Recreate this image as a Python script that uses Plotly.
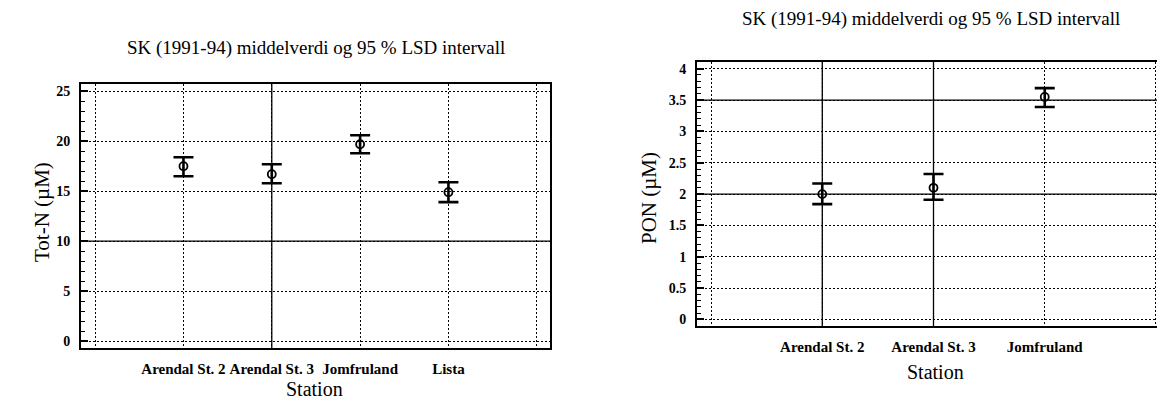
import plotly.graph_objects as go

# ---- data ----
stations_left = ["Arendal St. 2", "Arendal St. 3", "Jomfruland", "Lista"]
totn_mean = [17.5, 16.7, 19.7, 14.9]
totn_low = [16.5, 15.8, 18.8, 13.9]
totn_high = [18.4, 17.7, 20.6, 15.9]

stations_right = ["Arendal St. 2", "Arendal St. 3", "Jomfruland"]
pon_mean = [2.0, 2.1, 3.55]
pon_low = [1.84, 1.91, 3.39]
pon_high = [2.17, 2.32, 3.69]

title_text = "SK (1991-94) middelverdi og 95 % LSD intervall"
left_ylabel = "Tot-N (µM)"
right_ylabel = "PON (µM)"
xlabel = "Station"

left_yticks = [0, 5, 10, 15, 20, 25]
right_yticks = [0, 0.5, 1, 1.5, 2, 2.5, 3, 3.5, 4]
left_solid_y = [10]
left_solid_x = [2]
right_solid_y = [2, 3.5]
right_solid_x = [1, 2]

W, H = 1165, 401
SERIF = "Liberation Serif"

def px(x):
    return x / W

def py(y):
    return 1 - y / H

fig = go.Figure()

xl = list(range(1, len(stations_left) + 1))
xr = list(range(1, len(stations_right) + 1))

marker_style = dict(symbol="circle-open", size=8, color="black", line=dict(width=1.8, color="black"))

fig.add_trace(go.Scatter(
    x=xl, y=totn_mean, mode="markers", marker=marker_style,
    error_y=dict(type="data", symmetric=False,
                 array=[h - m for h, m in zip(totn_high, totn_mean)],
                 arrayminus=[m - l for m, l in zip(totn_mean, totn_low)],
                 color="black", thickness=2.6, width=10),
    xaxis="x", yaxis="y", showlegend=False))

fig.add_trace(go.Scatter(
    x=xr, y=pon_mean, mode="markers", marker=marker_style,
    error_y=dict(type="data", symmetric=False,
                 array=[h - m for h, m in zip(pon_high, pon_mean)],
                 arrayminus=[m - l for m, l in zip(pon_mean, pon_low)],
                 color="black", thickness=2.6, width=10),
    xaxis="x2", yaxis="y2", showlegend=False))

grid_common = dict(showgrid=True, gridcolor="black", gridwidth=1.2, griddash="2px,2px",
                   showline=True, linecolor="black", linewidth=2, mirror=True,
                   zeroline=False)

xtickfont = dict(family=SERIF, size=15, color="black", weight="bold")
ytickfont = dict(family=SERIF, size=14, color="black", weight="bold")

fig.update_layout(
    width=W, height=H, margin=dict(l=0, r=0, t=0, b=0),
    paper_bgcolor="white", plot_bgcolor="white",
    xaxis=dict(domain=[px(73), px(542)], range=[-0.16, 5.15],
               tickvals=list(range(0, len(stations_left) + 2)),
               ticktext=[""] + stations_left + [""],
               ticks="", tickfont=xtickfont, ticklabelstandoff=6,
               anchor="y", **grid_common),
    yaxis=dict(domain=[py(340), py(76)], range=[-0.7, 25.73],
               tickvals=left_yticks, ticks="inside", ticklen=7, tickwidth=1.5, tickcolor="black",
               minor=dict(dtick=1, ticks="inside", ticklen=4, tickwidth=1, tickcolor="black", showgrid=False),
               tickfont=ytickfont, ticklabelstandoff=6, anchor="x", **grid_common),
    xaxis2=dict(domain=[px(689), px(1160)], range=[-0.126, 4.108],
                tickvals=list(range(0, len(stations_right) + 2)),
                ticktext=[""] + stations_right + [""],
                ticks="", tickfont=xtickfont, ticklabelstandoff=6,
                anchor="y2", **grid_common),
    yaxis2=dict(domain=[py(318), py(54)], range=[-0.104, 4.107],
                tickvals=right_yticks, ticks="inside", ticklen=7, tickwidth=1.5, tickcolor="black",
                minor=dict(dtick=0.1, ticks="inside", ticklen=4, tickwidth=1, tickcolor="black", showgrid=False),
                tickfont=ytickfont, ticklabelstandoff=6, anchor="x2", **grid_common),
)

# solid grid lines (as in the scanned reference)
for v in left_solid_y:
    fig.add_shape(type="line", xref="x domain", yref="y", x0=0, x1=1, y0=v, y1=v,
                  line=dict(color="black", width=1.3), layer="below")
for v in left_solid_x:
    fig.add_shape(type="line", xref="x", yref="y domain", x0=v, x1=v, y0=0, y1=1,
                  line=dict(color="black", width=1.3), layer="below")
for v in right_solid_y:
    fig.add_shape(type="line", xref="x2 domain", yref="y2", x0=0, x1=1, y0=v, y1=v,
                  line=dict(color="black", width=1.3), layer="below")
for v in right_solid_x:
    fig.add_shape(type="line", xref="x2", yref="y2 domain", x0=v, x1=v, y0=0, y1=1,
                  line=dict(color="black", width=1.3), layer="below")

ann_font = dict(family=SERIF, color="black")
fig.add_annotation(text=title_text, x=px(308), y=py(40), xref="paper", yref="paper",
                   showarrow=False, font=dict(size=19, **ann_font), xanchor="center", yanchor="middle")
fig.add_annotation(text=title_text, x=px(923), y=py(11), xref="paper", yref="paper",
                   showarrow=False, font=dict(size=19, **ann_font), xanchor="center", yanchor="middle")
fig.add_annotation(text=left_ylabel, x=px(34), y=py(204), xref="paper", yref="paper", textangle=-90,
                   showarrow=False, font=dict(size=21, **ann_font), xanchor="center", yanchor="middle")
fig.add_annotation(text=right_ylabel, x=px(641), y=py(190), xref="paper", yref="paper", textangle=-90,
                   showarrow=False, font=dict(size=21, **ann_font), xanchor="center", yanchor="middle")
fig.add_annotation(text=xlabel, x=px(306), y=py(381), xref="paper", yref="paper",
                   showarrow=False, font=dict(size=20, **ann_font), xanchor="center", yanchor="middle")
fig.add_annotation(text=xlabel, x=px(927), y=py(364), xref="paper", yref="paper",
                   showarrow=False, font=dict(size=20, **ann_font), xanchor="center", yanchor="middle")

fig.write_html("out.html")
